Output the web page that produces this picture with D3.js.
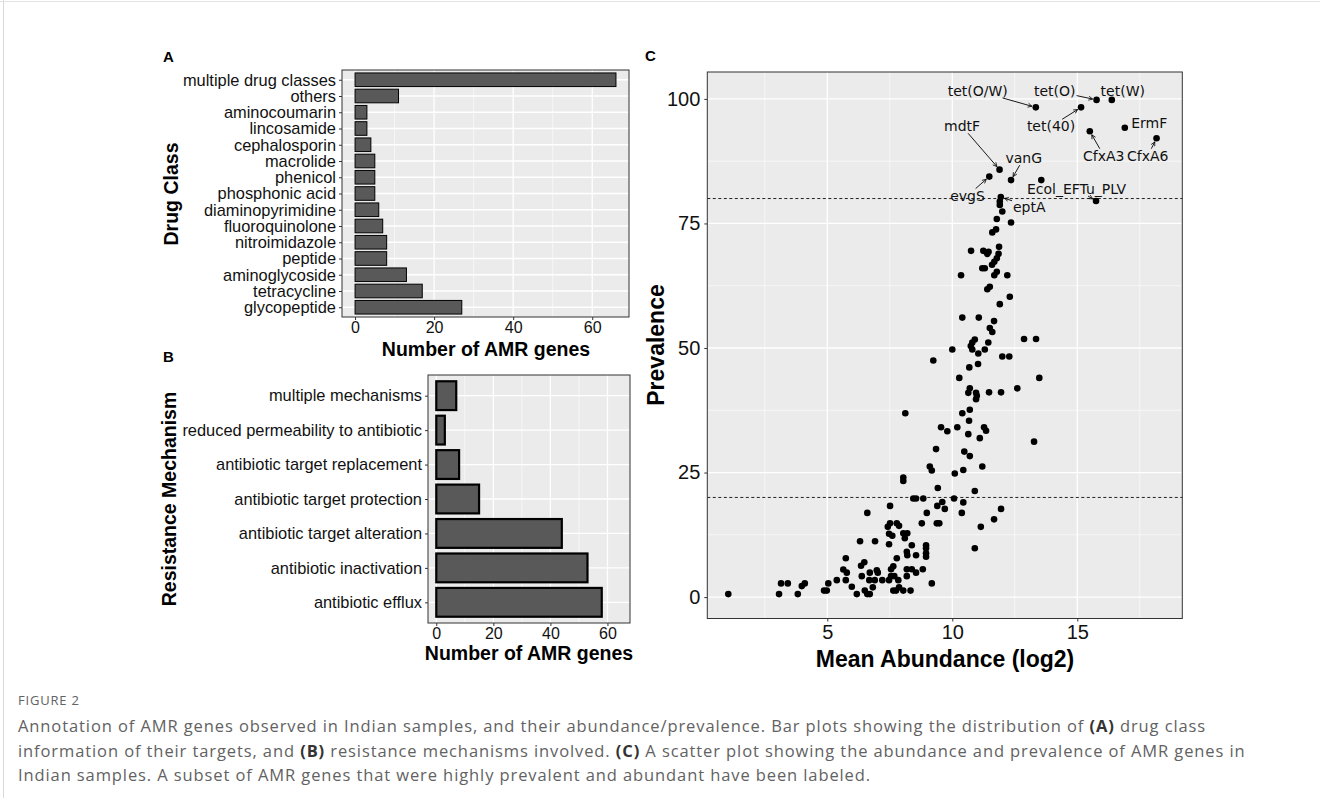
<!DOCTYPE html>
<html lang="en">
<head>
<meta charset="UTF-8">
<title>Figure 2</title>
<script src="https://d3js.org/d3.v7.min.js"></script>
<style>
    body { margin: 0; background: #fff; }
    svg { display: block; font-family: "Liberation Sans", Arial, Helvetica, sans-serif; }
    .caption { font-family: "Open Sans", sans-serif; fill: #626262; }
</style>
</head>
<body>
<svg width="1320" height="798"></svg>
<script>
// ---- data ----
const drugClasses = ["multiple drug classes", "others", "aminocoumarin", "lincosamide", "cephalosporin",
    "macrolide", "phenicol", "phosphonic acid", "diaminopyrimidine", "fluoroquinolone",
    "nitroimidazole", "peptide", "aminoglycoside", "tetracycline", "glycopeptide"];
const drugCounts = [66, 11, 3, 3, 4, 5, 5, 5, 6, 7, 8, 8, 13, 17, 27];

const mechanisms = ["multiple mechanisms", "reduced permeability to antibiotic", "antibiotic target replacement",
    "antibiotic target protection", "antibiotic target alteration", "antibiotic inactivation", "antibiotic efflux"];
const mechCounts = [7, 3, 8, 15, 44, 53, 58];

const barTicks = [0, 20, 40, 60];

// mean abundance (log2) and prevalence of each AMR gene
const abundance = [13.34, 15.77, 16.38, 15.15, 16.9, 15.5, 18.17, 11.89, 11.48, 12.35, 13.56, 11.94, 15.75,
    11.9, 11.9, 12.0, 11.78, 12.35, 11.75, 11.6, 10.75, 11.24, 11.45, 11.87, 11.4, 11.85, 11.78, 11.68, 11.59,
    11.2, 11.3, 10.35, 11.78, 11.68, 12.2, 11.5, 11.4, 12.3, 11.9, 10.4, 11.06, 11.67, 11.5, 11.6, 12.87, 13.35,
    10.9, 10.8, 11.44, 10.74, 10.0, 10.8, 11.3, 11.04, 12.0, 12.28, 9.24, 11.03, 10.68, 10.28, 13.48,
    10.7, 10.64, 10.95, 10.98, 10.95, 11.47, 11.95, 12.6, 8.12, 10.4, 10.7, 10.67, 9.55, 9.8, 10.2, 11.27, 11.35,
    10.64, 11.1, 13.27, 9.35, 10.48, 10.7, 9.1, 9.18, 10.1, 10.44, 11.2, 8.04, 8.04, 9.42, 10.9, 8.44, 8.55, 8.84,
    10.07, 9.6, 10.44, 9.4, 9.7, 11.95, 8.98, 10.38, 11.67, 8.78, 9.38, 9.48, 11.14, 10.9, 8.04, 8.2, 8.1, 8.38,
    8.95, 8.95, 8.95, 8.95, 8.18, 8.2, 8.55, 8.82, 8.18, 8.38, 8.55, 8.18,
    1.04, 3.07, 3.15, 3.42, 3.82, 3.98, 4.1, 4.87, 4.98, 5.04, 5.38, 5.74, 5.98, 6.18, 6.5, 6.6, 6.7, 6.82, 6.68,
    6.9, 7.2, 7.47, 7.64, 7.75, 7.87, 7.84, 5.64, 5.78, 6.38, 6.7, 6.98, 7.02, 5.74, 6.35, 6.48, 7.55, 7.64, 7.78,
    7.55, 7.68, 6.31, 6.91, 6.6, 7.47, 7.47, 7.42, 7.51, 7.6, 7.51, 7.78, 7.87, 8.33, 8.04, 9.18];
const prevalence = [98.3, 99.8, 99.8, 98.3, 94.2, 93.5, 92.1, 85.8, 84.4, 83.7, 83.7, 80.3, 79.5,
    79.4, 78.7, 77.4, 75.9, 75.2, 73.8, 73.2, 69.5, 69.5, 69.3, 70.3, 68.9, 68.9, 68.0, 67.3, 66.7,
    66.0, 66.0, 64.6, 65.3, 64.6, 64.6, 62.3, 61.8, 60.3, 58.8, 56.1, 56.1, 55.4, 54.0, 53.2, 51.8, 51.8,
    51.7, 51.1, 51.1, 50.4, 49.7, 49.7, 49.7, 48.9, 48.3, 48.3, 47.5, 46.8, 46.1, 44.0, 44.0,
    41.9, 41.0, 41.0, 40.4, 39.7, 41.1, 41.1, 41.9, 36.9, 36.9, 37.6, 35.4, 34.1, 33.3, 34.1, 34.1, 33.4,
    32.7, 31.9, 31.2, 29.7, 29.2, 28.3, 26.2, 25.4, 24.8, 25.5, 26.2, 24.0, 23.3, 21.9, 21.3, 19.8, 19.8, 19.8,
    19.8, 19.1, 19.0, 18.3, 17.7, 17.7, 16.9, 16.9, 15.6, 14.8, 14.8, 14.8, 14.1, 9.8, 12.8, 12.8, 11.8, 10.4,
    10.4, 9.8, 8.8, 8.1, 9.1, 8.4, 8.4, 5.6, 5.6, 5.6, 4.9, 4.2,
    0.6, 0.6, 2.75, 2.75, 0.6, 2.2, 2.75, 1.3, 1.3, 2.75, 3.4, 3.4, 2.07, 0.6, 1.3, 0.6, 0.6, 1.95, 3.4,
    3.4, 3.4, 3.4, 1.3, 1.3, 1.95, 3.4, 5.55, 4.9, 4.2, 4.9, 5.4, 4.9, 7.8, 6.3, 7.0, 5.6, 6.2, 7.8,
    4.2, 4.2, 11.2, 11.2, 16.9, 10.6, 12.7, 14.1, 14.8, 12.3, 18.3, 14.8, 14.3, 1.3, 1.3, 2.75];

const abundanceTicks = [5, 10, 15];
const prevalenceTicks = [0, 25, 50, 75, 100];
const prevalenceCutoffs = [20, 80];

// labelled genes: index of the point, and where the label text sits (data units)
const geneNames = ["tet(O/W)", "tet(O)", "tet(W)", "tet(40)", "ErmF", "CfxA3", "CfxA6", "mdtF", "evgS", "vanG", "eptA", "Ecol_EFTu_PLV"];
const genePoint = [0, 1, 2, 3, 4, 5, 6, 7, 8, 9, 11, 12];
const geneLabelAbund = [11.02, 14.1, 16.82, 13.95, 17.88, 16.06, 17.82, 10.39, 10.61, 12.86, 13.08, 14.97];
const geneLabelPrev = [101.6, 101.6, 101.6, 94.5, 95.2, 88.6, 88.6, 94.5, 80.6, 88.1, 78.4, 81.9];

// ---- drawing ----
const svg = d3.select("svg");
const panelBg = "#EBEBEB", barFill = "#595959";

svg.append("line").attr("x1", 3.5).attr("x2", 3.5).attr("y1", 0).attr("y2", 798)
   .attr("stroke", "#d9d9d9").attr("stroke-width", 1);
svg.append("line").attr("x1", 0).attr("x2", 1320).attr("y1", 1.5).attr("y2", 1.5)
   .attr("stroke", "#e3e3e3").attr("stroke-width", 1);

function styleAxis(g, size) {
    g.select(".domain").remove();
    g.selectAll(".tick line").attr("stroke", "#333");
    g.selectAll(".tick text").attr("fill", "#111").style("font-size", size + "px")
     .style("font-family", '"Liberation Sans", Arial, sans-serif');
}

function barPanel(cats, vals, box, xDomain, strokeW) {
    const x = d3.scaleLinear().domain(xDomain).range([box.x0, box.x1]);
    const y = d3.scalePoint().domain(cats).range([box.y0, box.y1]).padding(0.6);
    const h = y.step() * 0.9;
    const g = svg.append("g");

    g.append("rect").attr("x", box.x0).attr("y", box.y0)
     .attr("width", box.x1 - box.x0).attr("height", box.y1 - box.y0).attr("fill", panelBg);
    g.selectAll(".minor").data([10, 30, 50]).enter().append("line")
     .attr("x1", d => x(d)).attr("x2", d => x(d)).attr("y1", box.y0).attr("y2", box.y1)
     .attr("stroke", "#fff").attr("stroke-width", 0.6);
    g.selectAll(".major").data(barTicks).enter().append("line")
     .attr("x1", d => x(d)).attr("x2", d => x(d)).attr("y1", box.y0).attr("y2", box.y1)
     .attr("stroke", "#fff").attr("stroke-width", 1.3);
    g.selectAll(".hgrid").data(cats).enter().append("line")
     .attr("x1", box.x0).attr("x2", box.x1).attr("y1", d => y(d)).attr("y2", d => y(d))
     .attr("stroke", "#fff").attr("stroke-width", 1.3);

    g.selectAll(".bar").data(cats).enter().append("rect")
     .attr("x", x(0))
     .attr("y", d => y(d) - h / 2 + strokeW / 2)
     .attr("width", (d, i) => x(vals[i]) - x(0))
     .attr("height", h - strokeW)
     .attr("fill", barFill).attr("stroke", "#000").attr("stroke-width", strokeW);

    g.append("rect").attr("x", box.x0).attr("y", box.y0)
     .attr("width", box.x1 - box.x0).attr("height", box.y1 - box.y0)
     .attr("fill", "none").attr("stroke", "#333").attr("stroke-width", 1);

    const ax = g.append("g").attr("transform", `translate(0,${box.y1})`)
        .call(d3.axisBottom(x).tickValues(barTicks).tickSize(3).tickPadding(2));
    styleAxis(ax, 16);
    const ay = g.append("g").attr("transform", `translate(${box.x0},0)`)
        .call(d3.axisLeft(y).tickSize(3).tickPadding(3));
    styleAxis(ay, 16.4);
    return {x, y};
}

// panel A
barPanel(drugClasses, drugCounts, {x0: 342, x1: 629, y0: 70, y1: 317}, [-3.3, 69.3], 1);
// panel B
barPanel(mechanisms, mechCounts, {x0: 428, x1: 630, y0: 375, y1: 623}, [-2.9, 67.9], 2.2);

function title(txt, x, y, size, rotate) {
    svg.append("text")
       .attr("transform", `translate(${x},${y})` + (rotate ? " rotate(-90)" : ""))
       .attr("text-anchor", "middle").attr("font-weight", "bold")
       .attr("font-size", size).attr("fill", "#000").text(txt);
}
title("Drug Class", 178, 194, 19.5, true);
title("Number of AMR genes", 486, 356, 19.5, false);
title("Resistance Mechanism", 176, 499, 19.5, true);
title("Number of AMR genes", 529, 660, 19.5, false);

svg.append("text").attr("x", 163).attr("y", 62).attr("font-weight", "bold").attr("font-size", 15).text("A");
svg.append("text").attr("x", 163).attr("y", 362).attr("font-weight", "bold").attr("font-size", 15).text("B");
svg.append("text").attr("x", 645).attr("y", 61).attr("font-weight", "bold").attr("font-size", 15).text("C");

// panel C
const cbox = {x0: 707.3, x1: 1182.3, y0: 72, y1: 618.5};
const xs = d3.scaleLinear().domain([0.2, 19.2]).range([cbox.x0, cbox.x1]);
const ys = d3.scaleLinear().domain([-4.3, 105.4]).range([cbox.y1, cbox.y0]);
const gc = svg.append("g");
gc.append("rect").attr("x", cbox.x0).attr("y", cbox.y0)
  .attr("width", cbox.x1 - cbox.x0).attr("height", cbox.y1 - cbox.y0).attr("fill", panelBg);
gc.selectAll(".vminor").data([2.5, 7.5, 12.5, 17.5]).enter().append("line")
  .attr("x1", d => xs(d)).attr("x2", d => xs(d)).attr("y1", cbox.y0).attr("y2", cbox.y1)
  .attr("stroke", "#fff").attr("stroke-width", 0.6);
gc.selectAll(".hminor").data([12.5, 37.5, 62.5, 87.5]).enter().append("line")
  .attr("y1", d => ys(d)).attr("y2", d => ys(d)).attr("x1", cbox.x0).attr("x2", cbox.x1)
  .attr("stroke", "#fff").attr("stroke-width", 0.6);
gc.selectAll(".vmajor").data(abundanceTicks).enter().append("line")
  .attr("x1", d => xs(d)).attr("x2", d => xs(d)).attr("y1", cbox.y0).attr("y2", cbox.y1)
  .attr("stroke", "#fff").attr("stroke-width", 1.3);
gc.selectAll(".hmajor").data(prevalenceTicks).enter().append("line")
  .attr("y1", d => ys(d)).attr("y2", d => ys(d)).attr("x1", cbox.x0).attr("x2", cbox.x1)
  .attr("stroke", "#fff").attr("stroke-width", 1.3);

gc.selectAll(".cut").data(prevalenceCutoffs).enter().append("line")
  .attr("y1", d => ys(d)).attr("y2", d => ys(d)).attr("x1", cbox.x0).attr("x2", cbox.x1)
  .attr("stroke", "#222").attr("stroke-width", 1).attr("stroke-dasharray", "3,2.5");

gc.selectAll(".pt").data(abundance).enter().append("circle")
  .attr("cx", d => xs(d)).attr("cy", (d, i) => ys(prevalence[i]))
  .attr("r", 3.3).attr("fill", "#000");

svg.append("defs").append("marker").attr("id", "arr")
   .attr("viewBox", "0 0 8 8").attr("refX", 7).attr("refY", 4)
   .attr("markerWidth", 6).attr("markerHeight", 6).attr("orient", "auto")
   .append("path").attr("d", "M1,1 L7,4 L1,7").attr("fill", "none").attr("stroke", "#000").attr("stroke-width", 1.1);

const labels = gc.selectAll(".lab").data(geneNames).enter().append("text")
  .attr("x", (d, i) => xs(geneLabelAbund[i])).attr("y", (d, i) => ys(geneLabelPrev[i]))
  .attr("text-anchor", "middle").attr("dominant-baseline", "central")
  .style("font-family", '"DejaVu Sans", sans-serif').attr("font-size", 14).attr("fill", "#111")
  .text(d => d);

labels.each(function (d, i) {
    const b = this.getBBox();
    const px = xs(abundance[genePoint[i]]), py = ys(prevalence[genePoint[i]]);
    const cx = b.x + b.width / 2, cy = b.y + b.height / 2;
    const dx = px - cx, dy = py - cy;
    // where the ray from label centre to point leaves the label box
    const tx = dx !== 0 ? (b.width / 2 + 1) / Math.abs(dx) : Infinity;
    const ty = dy !== 0 ? (b.height / 2 - 1) / Math.abs(dy) : Infinity;
    const t = Math.min(tx, ty);
    const sx = cx + dx * t, sy = cy + dy * t;
    const len = Math.hypot(px - sx, py - sy);
    if (t >= 1 || len < 9) return;
    const ex = px - (px - sx) / len * 4, ey = py - (py - sy) / len * 4;
    gc.append("line").attr("x1", sx).attr("y1", sy).attr("x2", ex).attr("y2", ey)
      .attr("stroke", "#000").attr("stroke-width", 0.9).attr("marker-end", "url(#arr)");
});

gc.append("rect").attr("x", cbox.x0).attr("y", cbox.y0)
  .attr("width", cbox.x1 - cbox.x0).attr("height", cbox.y1 - cbox.y0)
  .attr("fill", "none").attr("stroke", "#333").attr("stroke-width", 1);

const cax = gc.append("g").attr("transform", `translate(0,${cbox.y1})`)
  .call(d3.axisBottom(xs).tickValues(abundanceTicks).tickSize(3).tickPadding(3.5));
styleAxis(cax, 20);
const cay = gc.append("g").attr("transform", `translate(${cbox.x0},0)`)
  .call(d3.axisLeft(ys).tickValues(prevalenceTicks).tickSize(3).tickPadding(4));
styleAxis(cay, 20);

title("Prevalence", 664, 345, 23, true);
title("Mean Abundance (log2)", 945, 667, 23, false);

// ---- caption ----
svg.append("text").attr("class", "caption").attr("x", 18).attr("y", 705)
   .attr("font-size", 13).attr("letter-spacing", 0.8).text("FIGURE 2");

const capLines = [
    [["Annotation of AMR genes observed in Indian samples, and their abundance/prevalence. Bar plots showing the distribution of ", false], ["(A)", true], [" drug class", false]],
    [["information of their targets, and ", false], ["(B)", true], [" resistance mechanisms involved. ", false], ["(C)", true], [" A scatter plot showing the abundance and prevalence of AMR genes in", false]],
    [["Indian samples. A subset of AMR genes that were highly prevalent and abundant have been labeled.", false]]
];
capLines.forEach((parts, li) => {
    const t = svg.append("text").attr("class", "caption").attr("x", 18).attr("y", 732 + li * 24.5)
        .attr("font-size", 16.5).attr("letter-spacing", 0.9);
    parts.forEach(p => {
        t.append("tspan").attr("font-weight", p[1] ? "bold" : null)
         .attr("fill", p[1] ? "#333" : null).text(p[0]);
    });
});
</script>
</body>
</html>
